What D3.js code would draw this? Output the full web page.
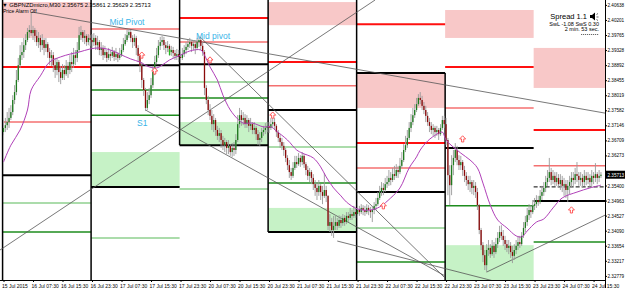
<!DOCTYPE html>
<html><head><meta charset="utf-8">
<script src="https://cdn.jsdelivr.net/npm/d3@7"></script>
<style>
body{margin:0;background:#fff;overflow:hidden}
svg{display:block}
text{font-family:"Liberation Sans",Arial,sans-serif}
</style></head><body>
<svg id="c" width="625" height="288"></svg>
<script>
// ---------- DATA ----------
const firstOpen = 2.3695;
const closes = [
2.3707,2.3715,2.3724,2.3736,2.3753,2.3788,2.3811,2.3846,2.3889,2.3918,
2.3927,2.3947,2.3962,2.3985,2.3991,2.3982,2.3991,2.3974,2.3956,2.3968,
2.3947,2.3962,2.3939,2.3950,2.3927,2.3910,2.3918,2.3889,2.3875,2.3898,
2.3869,2.3852,2.3875,2.3863,2.3887,2.3875,2.3898,2.3892,2.3918,2.3910,
2.3933,2.3976,2.3985,2.3968,2.3974,2.3956,2.3968,2.3962,
2.3956,2.3968,2.3947,2.3956,2.3933,2.3939,2.3918,2.3927,2.3910,2.3921,
2.3916,2.3927,2.3913,2.3921,2.3910,2.3918,2.3933,2.3950,2.3962,2.3976,
2.3985,2.3968,2.3956,2.3968,2.3939,2.3916,2.3887,2.3846,2.3817,2.3765,
2.3788,2.3802,2.3831,2.3869,2.3898,2.3918,2.3945,2.3956,2.3962,2.3947,
2.3939,2.3945,2.3927,2.3933,2.3924,2.3916,2.3921,2.3913,
2.3910,2.3921,2.3933,2.3942,2.3950,2.3956,2.3945,2.3950,2.3939,2.3956,
2.3962,2.3945,2.3927,2.3823,2.3788,2.3759,2.3742,2.3718,2.3730,2.3701,
2.3684,2.3692,2.3672,2.3657,2.3666,2.3649,2.3655,2.3637,2.3649,2.3643,
2.3672,2.3718,2.3744,2.3730,2.3736,2.3718,2.3730,2.3713,2.3718,2.3701,
2.3707,2.3689,2.3672,2.3678,2.3695,2.3701,2.3707,2.3713,
2.3707,2.3718,2.3724,2.3713,2.3695,2.3678,2.3666,2.3655,2.3643,2.3620,
2.3599,2.3579,2.3568,2.3591,2.3608,2.3602,2.3620,2.3608,2.3626,2.3602,
2.3585,2.3568,2.3579,2.3562,2.3544,2.3533,2.3521,2.3539,2.3521,2.3510,
2.3527,2.3510,2.3423,2.3434,2.3411,2.3423,2.3434,2.3423,2.3440,2.3431,
2.3446,2.3434,2.3452,2.3446,2.3457,2.3452,2.3463,2.3457,
2.3469,2.3463,2.3475,2.3469,2.3463,2.3475,2.3469,2.3463,2.3469,2.3481,
2.3486,2.3504,2.3521,2.3533,2.3527,2.3544,2.3550,2.3562,2.3556,2.3573,
2.3568,2.3585,2.3579,2.3597,2.3614,2.3643,2.3657,2.3678,2.3707,2.3724,
2.3744,2.3759,2.3776,2.3794,2.3788,2.3771,2.3759,2.3742,2.3724,2.3713,
2.3701,2.3707,2.3695,2.3701,2.3689,2.3707,2.3730,2.3718,
2.3672,2.3570,2.3541,2.3599,2.3620,2.3643,2.3614,2.3599,2.3608,2.3585,
2.3568,2.3556,2.3544,2.3550,2.3533,2.3539,2.3521,2.3483,2.3411,2.3367,
2.3338,2.3309,2.3353,2.3359,2.3341,2.3365,2.3347,2.3370,2.3388,2.3405,
2.3394,2.3382,2.3370,2.3359,2.3365,2.3347,2.3336,2.3353,2.3365,2.3376,
2.3370,2.3394,2.3417,2.3434,2.3454,2.3469,2.3463,2.3481,
2.3486,2.3498,2.3492,2.3510,2.3521,2.3533,2.3550,2.3562,2.3579,2.3556,
2.3568,2.3550,2.3562,2.3544,2.3556,2.3539,2.3544,2.3527,2.3539,2.3550,
2.3562,2.3556,2.3573,2.3568,2.3556,2.3562,2.3550,2.3568,2.3556,2.3562,
2.3550,2.3568,2.3562,2.3573,2.3562,2.3568,2.35713];
const highs = [
2.3730,2.3736,2.3753,2.3765,2.3773,2.3802,2.3831,2.3875,2.3910,2.3947,
2.3956,2.3968,2.3979,2.3997,2.4005,2.4043,2.4003,2.3997,2.3991,2.3985,
2.3976,2.3979,2.3968,2.3968,2.3956,2.3939,2.3933,2.3927,2.3910,2.3910,
2.3904,2.3887,2.3892,2.3889,2.3904,2.3898,2.3918,2.3927,2.3939,2.3933,
2.3956,2.4000,2.4003,2.3991,2.3991,2.3979,2.3979,2.3976,
2.3979,2.3982,2.3976,2.3974,2.3962,2.3956,2.3947,2.3945,2.3933,2.3939,
2.3933,2.3942,2.3933,2.3939,2.3927,2.3939,2.3950,2.3968,2.3979,2.3991,
2.3994,2.3991,2.3976,2.3979,2.3974,2.3947,2.3921,2.3898,2.3852,2.3823,
2.3811,2.3823,2.3852,2.3887,2.3916,2.3939,2.3962,2.3971,2.3974,2.3971,
2.3956,2.3959,2.3950,2.3945,2.3942,2.3933,2.3936,2.3933,
2.3927,2.3939,2.3947,2.3956,2.3962,2.3968,2.3962,2.3962,2.3959,2.3968,
2.3974,2.3968,2.3956,2.3933,2.3831,2.3800,2.3776,2.3759,2.3747,2.3736,
2.3713,2.3707,2.3701,2.3684,2.3678,2.3672,2.3672,2.3660,2.3663,2.3666,
2.3689,2.3744,2.3765,2.3759,2.3753,2.3747,2.3744,2.3736,2.3736,2.3724,
2.3724,2.3713,2.3701,2.3695,2.3707,2.3713,2.3721,2.3724,
2.3724,2.3736,2.3742,2.3736,2.3718,2.3701,2.3689,2.3678,2.3666,2.3649,
2.3628,2.3614,2.3591,2.3608,2.3626,2.3626,2.3634,2.3628,2.3637,2.3631,
2.3608,2.3597,2.3591,2.3585,2.3573,2.3556,2.3550,2.3556,2.3544,2.3539,
2.3576,2.3539,2.3512,2.3457,2.3446,2.3452,2.3454,2.3446,2.3454,2.3452,
2.3457,2.3454,2.3463,2.3463,2.3475,2.3469,2.3481,2.3475,
2.3483,2.3481,2.3486,2.3483,2.3481,2.3486,2.3483,2.3478,2.3481,2.3492,
2.3504,2.3521,2.3539,2.3550,2.3547,2.3562,2.3568,2.3585,2.3579,2.3591,
2.3597,2.3602,2.3597,2.3620,2.3637,2.3660,2.3684,2.3701,2.3724,2.3747,
2.3765,2.3776,2.3794,2.3805,2.3811,2.3800,2.3782,2.3771,2.3753,2.3736,
2.3724,2.3718,2.3713,2.3713,2.3707,2.3718,2.3742,2.3742,
2.3736,2.3678,2.3599,2.3628,2.3643,2.3663,2.3655,2.3628,2.3626,2.3614,
2.3597,2.3579,2.3568,2.3568,2.3556,2.3556,2.3550,2.3533,2.3486,2.3417,
2.3376,2.3353,2.3370,2.3382,2.3370,2.3382,2.3376,2.3388,2.3405,2.3423,
2.3425,2.3411,2.3394,2.3382,2.3382,2.3376,2.3365,2.3370,2.3382,2.3394,
2.3394,2.3405,2.3434,2.3452,2.3475,2.3486,2.3483,2.3498,
2.3504,2.3512,2.3510,2.3527,2.3539,2.3550,2.3568,2.3585,2.3620,2.3591,
2.3585,2.3579,2.3579,2.3573,2.3573,2.3568,2.3562,2.3556,2.3556,2.3568,
2.3579,2.3579,2.3591,2.3608,2.3579,2.3579,2.3573,2.3585,2.3579,2.3579,
2.3573,2.3585,2.3579,2.3605,2.3579,2.3585,2.3579];
const lows = [
2.3686,2.3695,2.3701,2.3707,2.3730,2.3744,2.3776,2.3802,2.3840,2.3881,
2.3904,2.3910,2.3933,2.3956,2.3968,2.3974,2.3962,2.3956,2.3945,2.3939,
2.3927,2.3933,2.3918,2.3927,2.3910,2.3889,2.3887,2.3869,2.3852,2.3860,
2.3840,2.3834,2.3846,2.3846,2.3858,2.3852,2.3863,2.3869,2.3881,2.3889,
2.3898,2.3927,2.3962,2.3956,2.3950,2.3945,2.3947,2.3945,
2.3939,2.3945,2.3933,2.3933,2.3918,2.3916,2.3904,2.3910,2.3898,2.3904,
2.3901,2.3910,2.3901,2.3904,2.3898,2.3904,2.3913,2.3927,2.3945,2.3956,
2.3968,2.3956,2.3939,2.3945,2.3918,2.3898,2.3869,2.3823,2.3800,2.3756,
2.3759,2.3776,2.3794,2.3823,2.3860,2.3892,2.3910,2.3933,2.3945,2.3933,
2.3921,2.3927,2.3916,2.3916,2.3910,2.3904,2.3904,2.3898,
2.3898,2.3904,2.3913,2.3921,2.3933,2.3939,2.3927,2.3933,2.3921,2.3933,
2.3942,2.3933,2.3916,2.3802,2.3776,2.3744,2.3730,2.3701,2.3695,2.3684,
2.3672,2.3666,2.3649,2.3643,2.3637,2.3631,2.3631,2.3626,2.3623,2.3626,
2.3631,2.3666,2.3707,2.3713,2.3715,2.3707,2.3707,2.3695,2.3701,2.3689,
2.3689,2.3672,2.3657,2.3655,2.3666,2.3684,2.3689,2.3695,
2.3692,2.3701,2.3707,2.3701,2.3681,2.3666,2.3649,2.3643,2.3626,2.3608,
2.3585,2.3562,2.3556,2.3562,2.3585,2.3591,2.3597,2.3594,2.3599,2.3591,
2.3570,2.3556,2.3550,2.3544,2.3527,2.3510,2.3498,2.3510,2.3498,2.3486,
2.3504,2.3492,2.3411,2.3405,2.3394,2.3388,2.3411,2.3411,2.3417,2.3417,
2.3423,2.3423,2.3428,2.3434,2.3440,2.3440,2.3446,2.3446,
2.3452,2.3452,2.3457,2.3454,2.3452,2.3457,2.3454,2.3446,2.3434,2.3457,
2.3469,2.3481,2.3498,2.3510,2.3512,2.3521,2.3533,2.3539,2.3541,2.3550,
2.3556,2.3562,2.3562,2.3573,2.3591,2.3608,2.3637,2.3649,2.3672,2.3695,
2.3715,2.3736,2.3753,2.3771,2.3776,2.3759,2.3747,2.3724,2.3713,2.3695,
2.3689,2.3684,2.3678,2.3684,2.3672,2.3684,2.3701,2.3707,
2.3657,2.3512,2.3483,2.3512,2.3570,2.3608,2.3599,2.3585,2.3585,2.3568,
2.3550,2.3539,2.3527,2.3521,2.3515,2.3512,2.3504,2.3469,2.3399,2.3353,
2.3318,2.3295,2.3289,2.3336,2.3330,2.3336,2.3330,2.3341,2.3359,2.3376,
2.3382,2.3365,2.3353,2.3347,2.3341,2.3330,2.3315,2.3324,2.3341,2.3353,
2.3359,2.3365,2.3388,2.3405,2.3423,2.3440,2.3446,2.3457,
2.3469,2.3475,2.3481,2.3486,2.3498,2.3510,2.3521,2.3539,2.3550,2.3541,
2.3544,2.3539,2.3539,2.3533,2.3527,2.3521,2.3510,2.3504,2.3492,2.3515,
2.3533,2.3539,2.3544,2.3550,2.3539,2.3539,2.3533,2.3539,2.3541,2.3544,
2.3533,2.3539,2.3544,2.3550,2.3544,2.3550,2.3562];

// moving average, read at sample bars
const maBars = [0,4,9,13,15,20,25,31,36,41,47,52,58,63,69,74,79,83,86,90,96,101,107,109,112,116,119,123,127,130,135,141,145,148,154,159,162,168,172,175,179,183,186,192,199,204,210,215,220,224,226,230,235,238,240,248,253,257,260,264,268,273,278,281,284,289,293,298,303,311,318,324];
const maVals = [2.3608,2.3657,2.3701,2.3759,2.3817,2.3858,2.3898,2.3913,2.3921,2.3927,2.3936,2.3939,2.3933,2.3921,2.3907,2.3898,2.3884,2.3881,2.3889,2.3904,2.3918,2.3930,2.3933,2.3918,2.3884,2.3846,2.3802,2.3759,2.3733,2.3721,2.3721,2.3710,2.3710,2.3698,2.3672,2.3643,2.3634,2.3620,2.3594,2.3565,2.3533,2.3510,2.3492,2.3472,2.3469,2.3478,2.3504,2.3533,2.3591,2.3623,2.3643,2.3669,2.3689,2.3695,2.3672,2.3634,2.3614,2.3591,2.3547,2.3483,2.3440,2.3417,2.3394,2.3391,2.3408,2.3434,2.3443,2.3475,2.3504,2.3521,2.3533,2.3541];

// daily levels
const lvlDay   = [0,0,0,0,0, 1,1,1,1,1,1, 2,2,2,2,2,2,2, 3,3,3,3,3,3, 4,4,4,4,4,4,4, 5,5,5,5, 6,6,6,6,6];
const lvlPrice = [2.3884,2.3724,2.3570,2.3489,2.3405,
                  2.3994,2.3889,2.3817,2.3744,2.3536,2.3388,
                  2.4026,2.3956,2.3892,2.3840,2.3794,2.3657,2.3530,
                  2.3898,2.3829,2.3759,2.3652,2.3547,2.3405,
                  2.4008,2.3866,2.3663,2.3591,2.3521,2.3417,2.3318,
                  2.3884,2.3765,2.3649,2.3481,
                  2.3701,2.3597,2.3536,2.3495,2.3376];
const lvlKind  = ["r","rl","p","gl","g",
                  "rl","p","g","g","p","gl",
                  "r","rl","p","gl","g","p","gl",
                  "r","rl","p","gl","g","p",
                  "r","p","r","rl","p","gl","g",
                  "r","rl","p","g",
                  "r","rl","d","p","g"];
// zones
const zoneDay  = [0,3,4,5,6,1,2,3,5];
const zoneHi   = [2.4072,2.4072,2.3863,2.4049,2.3939,2.3637,2.3724,2.3475,2.3367];
const zoneLo   = [2.3968,2.4005,2.3765,2.3968,2.3823,2.3536,2.3657,2.3405,2.3266];
const zoneKind = ["s","s","s","s","s","b","b","b","b"];
// day boundaries
const bndBar = [0,48,96,144,192,240];
const bndHi  = [2.4078,2.4078,2.4078,2.4078,2.4078,2.3866];
const bndLo  = [2.3266,2.3266,2.3657,2.3405,2.3266,2.3266];
// trend lines
const tlBar0 = [15.5,-1.9,77,106.6,181,262];
const tlP0   = [2.4043,2.3353,2.3759,2.3971,2.3379,2.3289];
const tlBar1 = [326.2,201.5,239.4,239.4,274.7,326.2];
const tlP1   = [2.3750,2.4078,2.3278,2.3272,2.3251,2.3454];
// fractal markers
const mkBar   = [75,82,112,146,206,249,308];
const mkPrice = [2.3918,2.3872,2.3904,2.3744,2.3481,2.3675,2.3469];
// text notes
const noteText  = ["Mid Pivot","Mid pivot","S1"];
const noteBar   = [57.5,104.4,72.4];
const notePrice = [2.4005,2.3965,2.3713];
// axes
const priceTicks = [2.40638,2.40201,2.39765,2.39328,2.38892,2.38455,2.38019,2.37582,2.37146,2.36709,2.36273,2.35836,2.35400,2.34963,2.34527,2.34090,2.33654,2.33217,2.32779];
const timeBars = [0,16,32,48,64,80,96,112,128,144,160,176,192,208,224,240,256,272,288,304,320];
const timeLabels = ["15 Jul 2015","16 Jul 07:30","16 Jul 15:30","16 Jul 23:30","17 Jul 07:30","17 Jul 15:30","17 Jul 23:30","20 Jul 07:30","20 Jul 15:30","20 Jul 23:30","21 Jul 07:30","21 Jul 15:30","21 Jul 23:30","22 Jul 07:30","22 Jul 15:30","22 Jul 23:30","23 Jul 07:30","23 Jul 15:30","23 Jul 23:30","24 Jul 07:30","24 Jul 15:30"];
const lastPrice = 2.35713;

// ---------- DRAW ----------
const svg = d3.select("#c");
const PR = 605, PB = 280;
const x = d3.scaleLinear().domain([0, 324]).range([3.5, 3.5 + 1.844 * 324]);
const y = d3.scaleLinear().domain([2.3266, 2.4078]).range([PB, 0]);
const dayX0 = d => x(48 * d - 0.5);
const dayX1 = d => Math.min(x(48 * d + 47.5), PR);

svg.append("rect").attr("width", 625).attr("height", 288).attr("fill", "#fff");
svg.append("clipPath").attr("id", "pc").append("rect").attr("x", 0).attr("y", 0).attr("width", PR).attr("height", PB);
const g = svg.append("g").attr("clip-path", "url(#pc)");

// zones
g.selectAll("rect.z").data(zoneDay).join("rect")
  .attr("x", (d) => dayX0(d)).attr("width", d => dayX1(d) - dayX0(d))
  .attr("y", (d, i) => y(zoneHi[i])).attr("height", (d, i) => y(zoneLo[i]) - y(zoneHi[i]))
  .attr("fill", (d, i) => zoneKind[i] === "s" ? "#f8c8c8" : "#c6f2c6");

// levels
const kindColor = {r: "#ff1010", rl: "#f47070", p: "#000", gl: "#8fd08f", g: "#1e8c1e", d: "#000"};
const kindW = {r: 2, rl: 1.5, p: 2, gl: 1.5, g: 1.5, d: 1};
g.selectAll("line.l").data(lvlDay).join("line")
  .attr("x1", d => dayX0(d)).attr("x2", d => dayX1(d))
  .attr("y1", (d, i) => y(lvlPrice[i])).attr("y2", (d, i) => y(lvlPrice[i]))
  .attr("stroke", (d, i) => kindColor[lvlKind[i]])
  .attr("stroke-width", (d, i) => kindW[lvlKind[i]])
  .attr("stroke-dasharray", (d, i) => lvlKind[i] === "d" ? "4,2" : null);

// day boundaries
g.selectAll("line.b").data(bndBar).join("line")
  .attr("x1", d => x(d - 0.5)).attr("x2", d => x(d - 0.5))
  .attr("y1", (d, i) => y(bndHi[i])).attr("y2", (d, i) => y(bndLo[i]))
  .attr("stroke", "#000").attr("stroke-width", 1.5);

// trend lines
g.selectAll("line.t").data(tlBar0).join("line")
  .attr("x1", d => x(d)).attr("y1", (d, i) => y(tlP0[i]))
  .attr("x2", (d, i) => x(tlBar1[i])).attr("y2", (d, i) => y(tlP1[i]))
  .attr("stroke", "#555").attr("stroke-width", 0.8);

// candles
const bars = closes.map((c, i) => ({i, o: i === 0 ? firstOpen : closes[i - 1], c, h: highs[i], l: lows[i]}));
g.selectAll("line.w").data(bars).join("line")
  .attr("x1", d => x(d.i)).attr("x2", d => x(d.i))
  .attr("y1", d => y(Math.max(d.h, d.o, d.c))).attr("y2", d => y(Math.min(d.l, d.o, d.c)))
  .attr("stroke", "#9a9a9a").attr("stroke-width", 0.9);
g.selectAll("rect.c").data(bars).join("rect")
  .attr("x", d => x(d.i) - 0.65).attr("width", 1.3)
  .attr("y", d => y(Math.max(d.o, d.c)))
  .attr("height", d => Math.max(0.8, Math.abs(y(d.o) - y(d.c))))
  .attr("fill", d => d.c > d.o ? "#1f7a1f" : d.c < d.o ? "#8b0a0a" : "#888");

// MA
g.append("path").datum(maBars)
  .attr("d", d3.line().x(d => x(d)).y((d, i) => y(maVals[i])).curve(d3.curveCatmullRom))
  .attr("fill", "none").attr("stroke", "#b040b8").attr("stroke-width", 1);

// markers
const arrow = "M0,-3.2L3,0L1.1,0L1.1,3L-1.1,3L-1.1,0L-3,0Z";
g.selectAll("path.m").data(mkBar).join("path")
  .attr("d", arrow)
  .attr("transform", (d, i) => `translate(${x(d)},${y(mkPrice[i])})`)
  .attr("fill", "#fff").attr("stroke", "#ff4a4a").attr("stroke-width", 0.9);
g.append("rect").attr("x", x(90) - 0.6).attr("y", y(2.3927) - 3).attr("width", 1.4).attr("height", 6).attr("fill", "#22bb22");

// notes
g.selectAll("text.n").data(noteText).join("text")
  .attr("x", (d, i) => x(noteBar[i])).attr("y", (d, i) => y(notePrice[i]))
  .attr("font-size", 8.5).attr("fill", "#38b4e8").text(d => d);

// axes
const ly = y(lastPrice);
const shownTicks = priceTicks.filter(v => Math.abs(y(v) - ly) > 6);
const ay = svg.append("g").attr("transform", `translate(${PR},0)`)
  .call(d3.axisRight(y).tickValues(shownTicks).tickSize(2).tickFormat(d3.format(".5f")));
ay.select(".domain").remove();
ay.selectAll("text").attr("font-size", 4.6).attr("x", 2.5).attr("fill", "#000").style("font-family", "Liberation Sans");
ay.selectAll("line").attr("stroke", "#000");
const ax = svg.append("g").attr("transform", `translate(0,${PB})`)
  .call(d3.axisBottom(x).tickValues(timeBars).tickSize(2).tickFormat((d, i) => timeLabels[i]));
ax.select(".domain").remove();
ax.selectAll("text").attr("font-size", 5).attr("text-anchor", "start").attr("dx", -2).attr("y", 4).attr("fill", "#000").style("font-family", "Liberation Sans");
ax.selectAll("line").attr("stroke", "#000");
svg.append("line").attr("x1", PR + 0.5).attr("x2", PR + 0.5).attr("y1", 0).attr("y2", 288).attr("stroke", "#000").attr("stroke-width", 1);
svg.append("line").attr("x1", 0).attr("x2", PR).attr("y1", PB + 0.5).attr("y2", PB + 0.5).attr("stroke", "#000").attr("stroke-width", 1);

// last price box
svg.append("rect").attr("x", PR + 1).attr("y", ly - 4).attr("width", 19).attr("height", 8).attr("fill", "#000");
svg.append("text").attr("x", PR + 2.5).attr("y", ly + 1.8).attr("font-size", 4.6).attr("fill", "#fff")
  .text(d3.format(".5f")(lastPrice));

// header texts
svg.append("text").attr("x", 2).attr("y", 7).attr("font-size", 5.8).attr("fill", "#000")
  .text("\u25BC GBPNZDmicro,M30  2.35675 2.35861 2.35629 2.35713");
svg.append("text").attr("x", 3).attr("y", 13).attr("font-size", 5).attr("fill", "#000").text("Price Alarm Off");
svg.append("text").attr("x", 587).attr("y", 19).attr("font-size", 7.5).attr("text-anchor", "end").attr("fill", "#000").text("Spread 1.1");
svg.append("path").attr("d", "M590,15h2l3,-2.5v8l-3,-2.5h-2z").attr("fill", "#000");
svg.append("path").attr("d", "M596.5,14.5l1.5,-1M596.5,17h2M596.5,19.5l1.5,1").attr("stroke", "#000").attr("stroke-width", 0.6);
svg.append("text").attr("x", 599).attr("y", 25.5).attr("font-size", 5.5).attr("text-anchor", "end").attr("fill", "#000").text("SwL -1.08 SwS 0.30");
svg.append("text").attr("x", 599).attr("y", 31).attr("font-size", 5.5).attr("text-anchor", "end").attr("fill", "#000").text("2 min. 53 sec.");
svg.append("line").attr("x1", 581).attr("x2", 599).attr("y1", 34.5).attr("y2", 34.5).attr("stroke", "#000").attr("stroke-width", 0.6).attr("stroke-dasharray", "1.2,0.8");
</script></body></html>
